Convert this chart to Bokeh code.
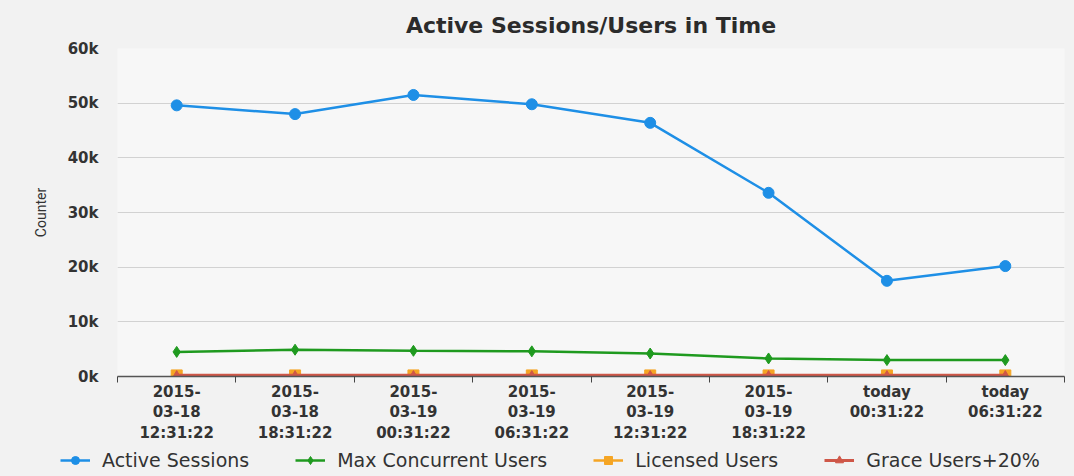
from bokeh.plotting import figure
from bokeh.layouts import column
from bokeh.models import Legend, LegendItem, FixedTicker, Range1d, ColumnDataSource
from bokeh.embed import file_html
from bokeh.resources import INLINE

# ---- data ----
categories = [
    "2015-\n03-18\n12:31:22",
    "2015-\n03-18\n18:31:22",
    "2015-\n03-19\n00:31:22",
    "2015-\n03-19\n06:31:22",
    "2015-\n03-19\n12:31:22",
    "2015-\n03-19\n18:31:22",
    "today\n00:31:22",
    "today\n06:31:22",
]
active_sessions = [49600, 48000, 51500, 49800, 46400, 33600, 17500, 20200]
max_concurrent = [4500, 4900, 4700, 4600, 4200, 3300, 3000, 3000]
licensed_users = [200, 200, 200, 200, 200, 200, 200, 200]
grace_users = [240, 240, 240, 240, 240, 240, 240, 240]
series_names = ["Active Sessions", "Max Concurrent Users", "Licensed Users", "Grace Users+20%"]
y_ticks = [0, 10000, 20000, 30000, 40000, 50000, 60000]
y_tick_labels = ["0k", "10k", "20k", "30k", "40k", "50k", "60k"]

n = len(categories)
xs = [i + 0.5 for i in range(n)]

src = ColumnDataSource(dict(x=xs, active=active_sessions, maxc=max_concurrent,
                            lic=licensed_users, grace=grace_users))

FONT = "DejaVu Sans"
TXT = "#333333"
BORDER = "#f2f2f2"

p = figure(width=1074, height=444, output_backend="svg", toolbar_location=None,
           x_range=Range1d(0, n), y_range=Range1d(0, 60000),
           title="Active Sessions/Users in Time",
           min_border_left=117, min_border_right=10, min_border_top=47, min_border_bottom=67)
p.frame_align = False

p.background_fill_color = "#f7f7f7"
p.border_fill_color = BORDER
p.outline_line_color = None

p.title.align = "center"
p.title.offset = -50
p.title.text_font = FONT
p.title.text_font_size = "22px"
p.title.text_font_style = "bold"
p.title.text_color = "#2b2b2b"
p.title.standoff = 21

# x axis: labels at category centres, ticks at category boundaries
xa = p.xaxis[0]
xa.ticker = FixedTicker(ticks=xs, minor_ticks=list(range(n + 1)))
xa.major_label_overrides = {x: c for x, c in zip(xs, categories)}
xa.major_tick_out = 0
xa.major_tick_in = 0
xa.minor_tick_out = 6
xa.minor_tick_in = 0
xa.minor_tick_line_color = "#444444"
xa.axis_line_color = "#555555"
xa.axis_line_width = 1.5
xa.major_label_text_font = FONT
xa.major_label_text_font_size = "15px"
xa.major_label_text_font_style = "bold"
xa.major_label_text_color = TXT
xa.major_label_text_line_height = 1.15
xa.major_label_standoff = 0

# y axis
ya = p.yaxis[0]
ya.ticker = FixedTicker(ticks=y_ticks)
ya.major_label_overrides = {t: l for t, l in zip(y_ticks, y_tick_labels)}
ya.axis_line_color = None
ya.major_tick_line_color = None
ya.minor_tick_line_color = None
ya.major_label_text_font = FONT
ya.major_label_text_font_size = "15px"
ya.major_label_text_font_style = "bold"
ya.major_label_text_color = TXT
ya.major_label_standoff = 13
ya.axis_label = "Counter"
ya.axis_label_text_font = "Roboto"
ya.axis_label_text_font_size = "14px"
ya.axis_label_text_font_style = "normal"
ya.axis_label_text_color = TXT
ya.axis_label_standoff = 16

p.xgrid.grid_line_color = None
p.ygrid.grid_line_color = "#d2d2d2"
p.ygrid.grid_line_width = 1.2

BLUE = "#1e8fe6"
GREEN = "#1f9a1f"
ORANGE = "#f5a524"
RED = "#cf5748"

styles = [
    (BLUE, "circle", 11, 2.5),
    (GREEN, "diamond", 11, 2.5),
    (ORANGE, "square", 11, 2.5),
    (RED, "triangle", 8, 3),
]
cols = ["active", "maxc", "lic", "grace"]
for (color, marker, size, lw), c in zip(styles, cols):
    p.line("x", c, source=src, line_color=color, line_width=lw)
    p.scatter("x", c, source=src, marker=marker, size=size, color=color)

# ---- legend strip below (proxy renderers outside the strip's visible range) ----
lg = figure(width=1074, height=32, output_backend="svg", toolbar_location=None,
            x_range=Range1d(-3, -2), y_range=Range1d(-3, -2),
            x_axis_location=None, y_axis_location=None,
            min_border=0)
lg.frame_align = False
lg.background_fill_color = BORDER
lg.border_fill_color = BORDER
lg.outline_line_color = None
lg.grid.grid_line_color = None

items = []
for (color, marker, size, lw), name, c in zip(styles, series_names, cols):
    r1 = lg.line("x", c, source=src, line_color=color, line_width=lw)
    r2 = lg.scatter("x", c, source=src, marker=marker, size=size - 1, color=color)
    items.append(LegendItem(label=name, renderers=[r1, r2]))

legend = Legend(items=items, orientation="horizontal", location=(60, 5))
legend.label_text_font = FONT
legend.label_text_font_size = "19px"
legend.label_text_color = TXT
legend.glyph_width = 30
legend.label_standoff = 12
legend.spacing = 46
legend.padding = 0
legend.margin = 0
legend.background_fill_alpha = 0
legend.border_line_color = None
lg.add_layout(legend)

layout = column(p, lg, spacing=0)
layout.background = BORDER

open("out.html", "w").write(file_html(layout, INLINE))
